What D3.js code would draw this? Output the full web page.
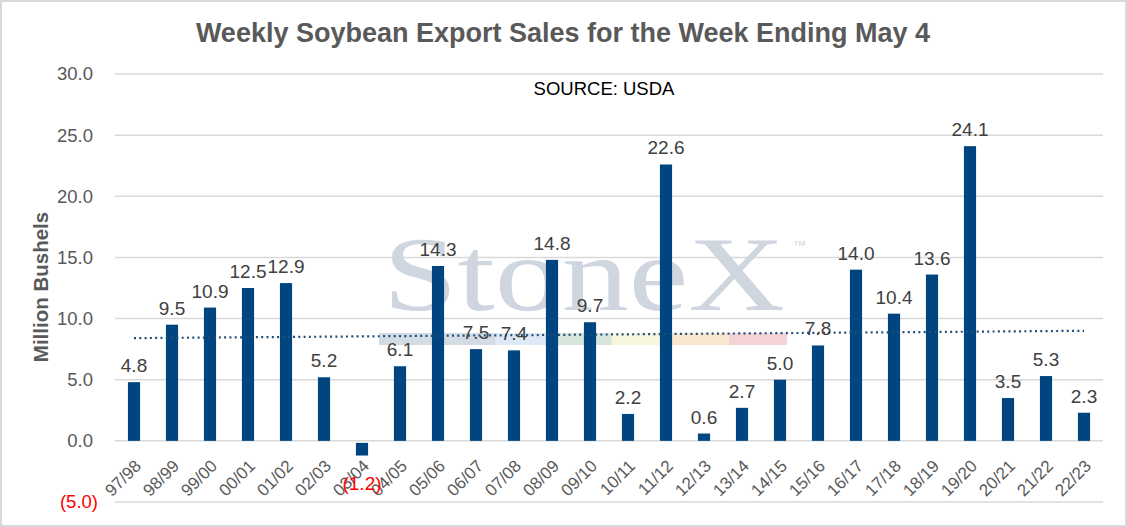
<!DOCTYPE html>
<html>
<head>
<meta charset="utf-8">
<script src="https://cdn.jsdelivr.net/npm/d3@7"></script>
<style>
  body { margin: 0; background: #fff; }
  svg { display: block; font-family: "Liberation Sans", Arial, sans-serif; }
</style>
</head>
<body>
<div id="chart"></div>
<script>
var seasons = ['97/98', '98/99', '99/00', '00/01', '01/02', '02/03', '03/04', '04/05', '05/06', '06/07',
  '07/08', '08/09', '09/10', '10/11', '11/12', '12/13', '13/14', '14/15', '15/16', '16/17',
  '17/18', '18/19', '19/20', '20/21', '21/22', '22/23']
var sales = [4.8, 9.5, 10.9, 12.5, 12.9, 5.2, -1.2, 6.1, 14.3, 7.5,
  7.4, 14.8, 9.7, 2.2, 22.6, 0.6, 2.7, 5.0, 7.8, 14.0,
  10.4, 13.6, 24.1, 3.5, 5.3, 2.3]
var trendEnds = [8.4, 9.0]
var yTicks = [-5, 0, 5, 10, 15, 20, 25, 30]
var stripColors = ['#d3dbe5', '#dde9f4', '#d5e5da', '#f6f6df', '#f9e6cf', '#f3d3d6']

var W = 1127, H = 527
var margin = {top: 74, right: 24, bottom: 25, left: 115}
var width = W - margin.left - margin.right
var height = H - margin.top - margin.bottom

var fmt = function(v) {
  var s = Math.abs(v).toFixed(1)
  return v < 0 ? '(' + s + ')' : s
}

var svg = d3.select('#chart').append('svg')
  .attr('width', W)
  .attr('height', H)

// outer frame
svg.append('rect')
  .attr('x', 1).attr('y', 1)
  .attr('width', W - 2).attr('height', H - 2)
  .attr('fill', '#fff')
  .attr('stroke', '#d9d9d9')
  .attr('stroke-width', 2)

var g = svg.append('g')
  .attr('transform', 'translate(' + margin.left + ',' + margin.top + ')')

var xScale = d3.scaleBand()
  .domain(seasons)
  .range([0, width])
  .paddingInner(0.68)
  .paddingOuter(0.34)

var yScale = d3.scaleLinear()
  .domain([-5, 30])
  .range([height, 0])

/* gridlines */
g.append('g')
  .selectAll('line')
  .data(yTicks)
  .join('line')
  .attr('x1', 0).attr('x2', width)
  .attr('y1', d => yScale(d)).attr('y2', d => yScale(d))
  .attr('stroke', '#d9d9d9')
  .attr('stroke-width', 1.5)

/* y axis labels */
var yAxis = g.append('g')
  .call(d3.axisLeft(yScale).tickValues(yTicks).tickFormat(fmt).tickSize(0).tickPadding(22))
yAxis.select('.domain').remove()
yAxis.selectAll('text')
  .attr('font-size', 18.5)
  .attr('font-family', '"Liberation Sans", Arial, sans-serif')
  .attr('fill', d => d < 0 ? '#ff0000' : '#595959')
  .attr('dx', d => d < 0 ? 5 : 0)

/* watermark */
var wm = g.append('g').attr('transform', 'translate(' + (383 - margin.left) + ',' + (310 - margin.top) + ')')
wm.append('text')
  .attr('x', 0).attr('y', 0)
  .attr('font-family', '"Liberation Serif", "DejaVu Serif", serif')
  .attr('font-size', 106)
  .attr('textLength', 402)
  .attr('lengthAdjust', 'spacingAndGlyphs')
  .attr('fill', '#cfd6df')
  .text('StoneX')
wm.append('text')
  .attr('x', 410).attr('y', -60)
  .attr('font-size', 13)
  .attr('fill', '#cfd6df')
  .text('™')
wm.selectAll('rect.strip')
  .data(stripColors)
  .join('rect')
  .attr('class', 'strip')
  .attr('x', (d, i) => i === 0 ? -4 : 112 + (i - 1) * 58.4)
  .attr('width', (d, i) => i === 0 ? 116 : 58.4)
  .attr('y', 23).attr('height', 12)
  .attr('fill', d => d)

/* bars */
g.append('g')
  .selectAll('rect')
  .data(sales)
  .join('rect')
  .attr('x', (d, i) => xScale(seasons[i]))
  .attr('width', xScale.bandwidth())
  .attr('y', d => d >= 0 ? yScale(d) : yScale(0) + 2)
  .attr('height', d => Math.abs(yScale(d) - yScale(0)) - (d < 0 ? 2 : 0))
  .attr('fill', '#00457f')

/* trendline */
var xCenter = s => xScale(s) + xScale.bandwidth() / 2
g.append('line')
  .attr('x1', xCenter(seasons[0]))
  .attr('x2', xCenter(seasons[seasons.length - 1]))
  .attr('y1', yScale(trendEnds[0]))
  .attr('y2', yScale(trendEnds[1]))
  .attr('stroke', '#1f4e79')
  .attr('stroke-width', 2.2)
  .attr('stroke-dasharray', '2,3.3')

/* x axis labels */
g.append('g')
  .selectAll('text')
  .data(seasons)
  .join('text')
  .attr('transform', d => 'translate(' + (xCenter(d) + 4) + ',' + (yScale(0) + 22) + ') rotate(-45)')
  .attr('text-anchor', 'end')
  .attr('dy', '0.35em')
  .attr('font-size', 17)
  .attr('fill', '#595959')
  .text(d => d)

/* data labels */
g.append('g')
  .selectAll('text')
  .data(sales)
  .join('text')
  .attr('x', (d, i) => xCenter(seasons[i]))
  .attr('y', d => d >= 0 ? yScale(d) - 10 : yScale(d) + 34)
  .attr('text-anchor', 'middle')
  .attr('font-size', 19)
  .attr('fill', d => d < 0 ? '#ff0000' : '#404040')
  .text(fmt)

/* title & labels */
svg.append('text')
  .attr('x', 563).attr('y', 42)
  .attr('text-anchor', 'middle')
  .attr('font-size', 27)
  .attr('font-weight', 'bold')
  .attr('fill', '#595959')
  .text('Weekly Soybean Export Sales for the Week Ending May 4')

svg.append('text')
  .attr('x', 604).attr('y', 95)
  .attr('text-anchor', 'middle')
  .attr('font-size', 18.5)
  .attr('fill', '#000')
  .text('SOURCE: USDA')

svg.append('text')
  .attr('transform', 'translate(48,287) rotate(-90)')
  .attr('text-anchor', 'middle')
  .attr('font-size', 20.5)
  .attr('font-weight', 'bold')
  .attr('fill', '#595959')
  .text('Million Bushels')
</script>
</body>
</html>
